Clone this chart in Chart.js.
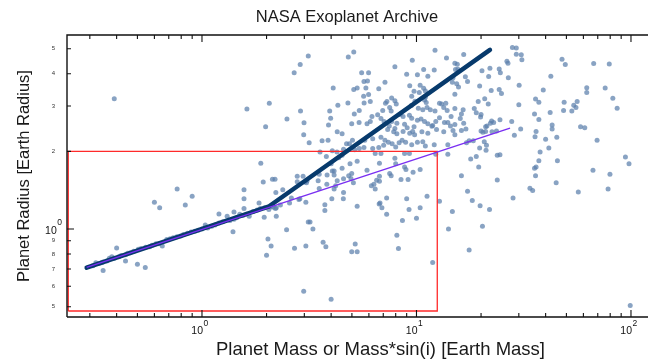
<!DOCTYPE html>
<html><head><meta charset="utf-8">
<script src="https://cdn.jsdelivr.net/npm/chart.js@4"></script>
<style>
html,body{margin:0;padding:0;background:#fff;overflow:hidden;}
#wrap{width:648px;height:360px;overflow:hidden;position:relative;background:#fff;}
canvas{display:block;}
</style></head><body>
<div id="wrap"><canvas id="c" width="724" height="360"></canvas></div>
<script>
// [mass (Earth masses), radius (Earth radii)]
const planets = [
[0.31,0.72],[0.32,0.74],[0.33,0.735],[0.34,0.74],[0.346,0.745],[0.36,0.752],[0.37,0.77],[0.38,0.78],[0.39,0.77],[0.41,0.78],[0.42,0.79],[0.44,0.794],[0.45,0.806],[0.463,0.81],[0.48,0.82],[0.505,0.834],[0.52,0.84],[0.546,0.85],[0.57,0.854],[0.585,0.865],[0.61,0.877],[0.63,0.877],[0.685,0.91],[0.71,0.917],[0.734,0.925],[0.764,0.933],[0.795,0.94],[0.82,0.953],[0.855,0.962],[0.89,0.973],[0.927,0.98],[0.96,0.988],[1.0,1.0],[1.036,1.037],[1.063,1.01],[1.11,1.025],[1.15,1.037],[1.2,1.055],[1.25,1.067],[1.31,1.12],[1.35,1.08],[1.41,1.09],[1.45,1.105],[1.5,1.14],[1.55,1.127],[1.61,1.14],[1.66,1.12],[1.73,1.17],[1.81,1.185],[1.87,1.2],[1.96,1.21],[2.05,1.19],[2.1,1.22],
[0.40,0.845],[0.346,0.69],[0.44,0.752],[0.50,0.73],[0.544,0.71],[0.6,1.27],[0.635,1.21],[0.766,1.43],[0.836,1.24],[0.9,1.34],[0.653,0.86],[1.2,1.143],[1.395,0.976],[1.41,1.165],[1.57,1.42],[1.57,1.2],[1.88,1.8],[1.93,1.52],[1.845,1.26],[1.95,1.11],[2.03,0.914],[2.1,0.86],[2.0,0.792],[2.13,1.56],[2.19,1.56],[2.21,1.385],[2.2,1.2],[2.22,1.12],[2.32,1.24],[2.38,1.42],[2.48,0.994],[2.56,1.26],[2.61,1.32],[2.7,0.842],[2.78,1.6],[2.96,1.6],[2.83,1.3],[2.86,1.31],[3.05,0.86],[3.05,1.27],[3.13,1.065],[0.39,3.2],
[3.13,4.68],[2.87,4.34],[2.69,4.03],[1.62,2.92],[2.06,3.07],[2.88,2.87],[2.49,2.67],[2.99,2.58],[1.98,2.49],[2.98,2.32],[3.16,2.16],[2.78,1.525],[3.07,1.51],[2.22,1.21],[2.15,1.215],[2.98,0.574],[1.57,1.31],
[4.81,4.64],[5.1,4.85],[5.55,4.03],[5.98,4.03],[4.09,3.52],[5.1,3.47],[5.29,3.52],[5.81,3.52],[5.69,3.73],[5.91,3.75],[6.67,3.5],[5.67,3.27],[5.98,3.32],[6.09,3.12],[5.7,3.08],[4.79,3.08],[4.3,3.02],[3.94,2.87],[5.13,2.79],[5.41,2.88],[6.2,2.73],[6.59,2.77],[3.98,2.69],[4.99,2.56],[5.4,2.59],[5.88,2.56],[6.09,2.61],[3.89,2.53],[4.27,2.38],[4.5,2.34],[3.63,2.2],[3.87,2.21],[5.74,2.21],[6.25,2.24],[5.03,2.21],[4.72,2.14],[4.87,2.14],[5.41,2.05],[5.69,2.07],[6.25,2.05],[6.67,2.07],[4.57,2.04],[4.05,2.01],[4.26,1.99],[3.55,1.99],[5.15,2.03],[5.29,1.83],[4.9,1.79],[4.5,1.93],[4.34,1.89],[3.8,1.91],[6.72,1.8],[4.0,1.79],[4.5,1.72],[4.13,1.68],[4.05,1.68],[4.99,1.64],[4.83,1.61],[5.88,1.69],[3.52,1.63],[3.83,1.62],[4.13,1.62],[4.57,1.565],[3.09,1.54],[3.02,1.52],[3.48,1.54],[3.82,1.49],[4.27,1.54],[5.08,1.51],[4.95,1.57],[6.33,1.49],[6.16,1.47],[6.52,1.545],[6.72,1.6],[4.2,1.47],[3.52,1.435],[4.13,1.43],[4.57,1.385],[4.56,1.31],[4.03,1.31],[3.74,1.243],[3.74,1.18],[5.29,1.226],[6.7,1.25],[3.19,1.065],[3.29,1.0],[3.67,0.888],[3.78,0.853],[5.18,0.874],[4.99,0.816],[5.29,0.816],[4.0,0.534],
[12.2,4.93],[13.8,4.6],[9.56,4.51],[7.93,4.26],[10.8,4.15],[12.1,4.13],[9.0,3.98],[10.1,3.96],[11.3,3.91],[7.13,3.71],[9.3,3.59],[10.4,3.61],[10.8,3.51],[11.0,3.43],[9.74,3.42],[10.3,3.38],[9.5,3.27],[7.66,3.22],[7.93,3.14],[7.28,3.12],[8.05,3.05],[7.17,3.07],[11.0,3.24],[10.9,3.16],[11.1,3.09],[12.8,3.07],[13.1,3.05],[13.7,3.07],[13.4,2.96],[9.84,3.13],[9.46,3.01],[7.5,2.96],[7.62,2.87],[6.96,2.88],[10.2,2.94],[10.7,2.9],[11.2,2.96],[11.6,2.9],[12.2,2.87],[6.83,2.68],[7.06,2.61],[8.4,2.78],[8.66,2.73],[9.27,2.76],[9.5,2.69],[10.1,2.64],[10.5,2.67],[10.9,2.61],[11.3,2.56],[11.9,2.52],[12.3,2.61],[12.8,2.7],[13.5,2.59],[14.0,2.59],[7.66,2.61],[8.1,2.57],[7.47,2.51],[7.93,2.45],[7.34,2.43],[7.83,2.38],[8.1,2.34],[8.8,2.55],[9.05,2.47],[8.66,2.39],[9.3,2.35],[9.74,2.49],[9.6,2.39],[9.8,2.32],[10.6,2.38],[11.3,2.35],[11.8,2.5],[12.4,2.43],[13.4,2.38],[6.83,2.27],[7.13,2.21],[7.4,2.17],[8.3,2.16],[8.57,2.21],[8.9,2.17],[9.5,2.12],[10.1,2.17],[10.7,2.18],[7.03,2.11],[7.7,2.14],[8.0,2.08],[11.0,2.1],[12.1,2.12],[6.42,1.96],[6.83,1.96],[8.8,1.96],[9.27,1.96],[12.3,1.95],[7.93,1.88],[8.0,1.79],[8.8,1.74],[8.93,1.7],[10.4,1.7],[9.64,1.66],[7.5,1.64],[7.62,1.61],[8.47,1.555],[9.14,1.555],[6.72,1.53],[6.42,1.43],[7.26,1.32],[9.0,1.31],[11.2,1.34],[6.76,1.26],[6.9,1.21],[10.4,1.21],[9.23,1.19],[7.26,1.14],[10.0,1.1],[8.6,1.08],[12.8,1.28],[14.1,1.0],[8.1,0.945],[8.24,0.84],[11.9,0.742],
[28.0,5.05],[29.2,5.03],[29.2,4.76],[30.8,4.74],[31.0,4.53],[16.6,4.75],[26.4,4.47],[26.7,4.39],[15.1,4.39],[15.5,4.35],[15.6,4.16],[15.2,4.15],[20.2,4.11],[22.0,4.2],[24.3,4.17],[24.6,4.03],[16.9,3.89],[17.3,3.73],[21.7,3.9],[26.8,3.86],[14.7,3.71],[15.4,3.66],[15.7,3.55],[14.8,3.86],[19.7,3.58],[22.3,3.44],[24.3,3.47],[24.9,3.35],[30.1,3.61],[15.1,3.33],[20.8,3.2],[19.4,3.12],[21.6,3.05],[18.6,2.93],[19.0,2.82],[20.0,2.78],[19.9,2.72],[13.9,2.88],[15.1,2.93],[16.5,2.9],[16.2,2.79],[14.5,2.73],[30.0,3.03],[16.0,2.68],[16.6,2.57],[15.1,2.54],[14.4,2.51],[14.8,2.41],[15.1,2.32],[16.2,2.41],[17.0,2.44],[22.4,2.62],[22.9,2.59],[22.1,2.57],[21.3,2.51],[24.5,2.65],[21.0,2.49],[20.0,2.4],[20.4,2.37],[21.0,2.39],[22.5,2.38],[23.6,2.4],[27.8,2.61],[28.6,2.31],[30.6,2.44],[17.6,2.2],[18.4,2.2],[20.7,2.18],[17.1,2.16],[14.0,2.12],[19.7,2.06],[21.2,2.11],[21.1,2.02],[14.0,1.95],[17.9,1.87],[19.0,1.91],[23.8,1.93],[24.5,1.94],[19.5,1.74],[16.2,1.61],[23.8,1.55],[17.3,1.4],[18.2,1.29],[19.8,1.23],[21.9,1.19],[28.2,1.32],[14.7,1.17],[20.3,1.025],[17.6,0.83],[35.9,3.19],[37.2,3.1],[35.5,2.79],[36.1,2.39],[35.7,2.28],[37.7,1.99],[37.2,1.84],[36.1,1.74],[35.5,1.72],[35.9,1.61],[33.8,1.44],[34.8,1.41],
[47.7,4.55],[49.4,4.34],[67.0,4.38],[79.2,4.36],[42.3,3.91],[39.0,3.46],[62.2,3.53],[62.2,3.38],[75.8,3.52],[82.3,3.21],[86.2,2.94],[48.8,3.1],[56.1,3.12],[54.1,3.02],[55.4,2.96],[53.0,2.87],[48.5,2.88],[42.0,2.83],[37.2,2.66],[42.9,2.53],[42.9,2.44],[58.2,2.49],[60.9,2.47],[40.0,2.23],[45.1,2.27],[69.5,2.21],[41.4,2.06],[45.4,1.84],[66.5,1.69],[79.8,1.63],[94.2,1.9],[97.9,1.79],[44.8,1.51],[56.8,1.39],[78.2,1.43],[99.2,0.505]
];
// broken power law (thick) and single power law (thin)
const brokenLaw = [[0.29,0.708],[2.04,1.22],[22.0,4.95]];
const singleLaw = [[0.29,0.71],[27.3,2.46]];
// selection box
const boxCorners = [[0.238,0.481],[0.238,2.0],[12.5,2.0],[12.5,0.481],[0.238,0.481]];

const xRange = [0.2348, 196.7];
const yRange = [0.456, 5.65];
const xTickValues = [0.3,0.4,0.5,0.6,0.7,0.8,0.9,1,2,3,4,5,6,7,8,9,10,20,30,40,50,60,70,80,90,100];
const xMajorTicks = [1,10,100];
const xMajorExp = ['0','1','2'];
const yTickValues = [0.5,0.6,0.7,0.8,0.9,1,2,3,4,5];
const yTickLabels = ['5','6','7','8','9','','2','3','4','5'];
const yMajorTicks = [1];
const yMajorExp = ['0'];

const FONT = '"Liberation Sans", Arial, Helvetica, sans-serif';
const toXY = arr => arr.map(p => ({x: p[0], y: p[1]}));

const framePlugin = {
  id: 'frame',
  afterDraw(chart) {
    const {ctx, chartArea: a, scales: {x, y}} = chart;
    ctx.save();
    ctx.strokeStyle = '#111';
    ctx.lineWidth = 1.4;
    ctx.beginPath();
    ctx.moveTo(a.left, a.bottom); ctx.lineTo(a.left, a.top); ctx.lineTo(a.right, a.top);
    ctx.lineTo(a.right, a.bottom); ctx.lineTo(a.left, a.bottom);
    ctx.stroke();
    ctx.lineWidth = 1.1;
    ctx.beginPath();
    xTickValues.forEach(v => {
      const px = x.getPixelForValue(v);
      const len = xMajorTicks.includes(v) ? 7 : 4;
      ctx.moveTo(px, a.bottom); ctx.lineTo(px, a.bottom - len);
      ctx.moveTo(px, a.top); ctx.lineTo(px, a.top + len);
    });
    yTickValues.forEach(v => {
      const py = y.getPixelForValue(v);
      const len = yMajorTicks.includes(v) ? 7 : 4;
      ctx.moveTo(a.left, py); ctx.lineTo(a.left + len, py);
      ctx.moveTo(a.right, py); ctx.lineTo(a.right - len, py);
    });
    ctx.stroke();
    ctx.fillStyle = '#111';
    ctx.textBaseline = 'middle';
    xMajorTicks.forEach((v, i) => {
      const px = x.getPixelForValue(v);
      ctx.font = '10.5px ' + FONT; ctx.textAlign = 'right';
      ctx.fillText('10', px + 1, a.bottom + 14);
      ctx.font = '8.5px ' + FONT; ctx.textAlign = 'left';
      ctx.fillText(xMajorExp[i], px + 1.5, a.bottom + 7);
    });
    yMajorTicks.forEach((v, i) => {
      const py = y.getPixelForValue(v);
      ctx.font = '8.5px ' + FONT; ctx.textAlign = 'right';
      const right = a.left - 5;
      ctx.fillText(yMajorExp[i], right, py - 6);
      const w = ctx.measureText(yMajorExp[i]).width;
      ctx.font = '10.5px ' + FONT;
      ctx.fillText('10', right - w - 0.5, py + 2);
    });
    ctx.restore();
  }
};

new Chart(document.getElementById('c'), {
  type: 'scatter',
  data: {
    datasets: [
      {data: toXY(singleLaw), showLine: true, borderColor: '#7a2ff2', borderWidth: 1.4, pointRadius: 0, order: 0, fill: false},
      {data: toXY(brokenLaw), showLine: true, borderColor: '#073a6c', borderWidth: 4.5, borderCapStyle: 'round', borderJoinStyle: 'round', pointRadius: 0, order: 1, fill: false},
      {data: toXY(boxCorners), showLine: true, borderColor: '#ff2a2a', borderWidth: 1.3, pointRadius: 0, order: 2, fill: false},
      {data: toXY(planets), pointRadius: 2.5, pointHoverRadius: 2.5, pointBorderWidth: 0, backgroundColor: 'rgba(92,127,172,0.72)', borderColor: 'rgba(0,0,0,0)', order: 3}
    ]
  },
  options: {
    responsive: false,
    animation: false,
    devicePixelRatio: 1,
    layout: {padding: {left: 0, right: 30, top: 0, bottom: 0}},
    plugins: {
      legend: {display: false},
      tooltip: {enabled: false},
      title: {display: true, text: 'NASA Exoplanet Archive', color: '#1a1a1a',
        font: {family: FONT, size: 16.5, weight: 'normal', lineHeight: 1.2}, padding: {top: 7.6, bottom: 7.6}}
    },
    scales: {
      x: {
        type: 'logarithmic', position: 'bottom', min: xRange[0], max: xRange[1],
        grid: {display: false}, border: {display: false},
        ticks: {display: false},
        afterBuildTicks: s => { s.ticks = xTickValues.map(v => ({value: v})); },
        afterFit: s => { s.height = 43; },
        title: {display: true, text: 'Planet Mass or Mass*sin(i) [Earth Mass]', color: '#1a1a1a',
          font: {family: FONT, size: 18.5, lineHeight: 1.1}, padding: {top: 0, bottom: 0}}
      },
      y: {
        type: 'logarithmic', position: 'left', min: yRange[0], max: yRange[1],
        grid: {display: false}, border: {display: false},
        afterBuildTicks: s => { s.ticks = yTickValues.map(v => ({value: v})); },
        afterFit: s => { s.width = 67; },
        ticks: {
          autoSkip: false, padding: 4, color: '#333',
          font: {family: FONT, size: 6},
          callback: v => { const i = yTickValues.indexOf(v); return i >= 0 ? yTickLabels[i] : ''; }
        },
        title: {display: true, text: 'Planet Radius [Earth Radius]', color: '#1a1a1a',
          font: {family: FONT, size: 16.5, lineHeight: 1.2}, padding: {top: 15, bottom: 0}}
      }
    }
  },
  plugins: [framePlugin]
});
</script>
</body></html>
